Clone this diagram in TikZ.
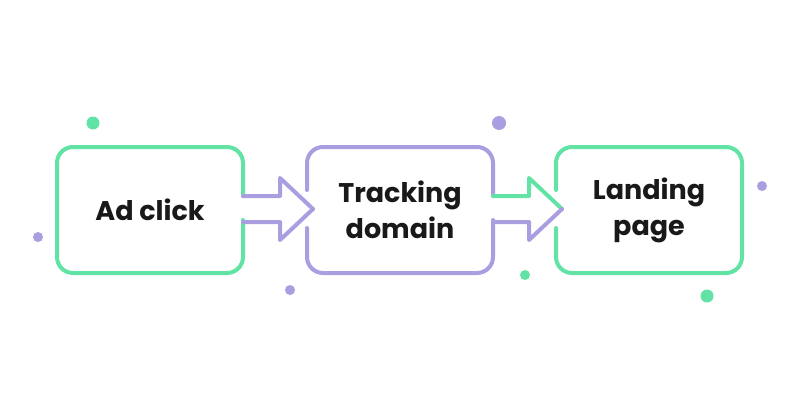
\documentclass[tikz,border=0pt]{standalone}
\usepackage{fontspec}
\setmainfont{Poppins}
\begin{document}
\begin{tikzpicture}[x=1pt,y=-1pt,
  gr/.style={draw=grn,line width=4pt,line join=round,line cap=round},
  pu/.style={draw=pur,line width=4pt,line join=round,line cap=round},
  lbl/.style={font=\fontsize{27}{36}\selectfont\bfseries,align=center,text=black!90}]
\definecolor{grn}{HTML}{62E3A6}
\definecolor{pur}{HTML}{AA9DE0}
\useasboundingbox[fill=white] (0,0) rectangle (800,420);
% boxes
\draw[gr,rounded corners=16] (243,220) -- (243,273) -- (57,273) -- (57,147) -- (243,147) -- (243,196);
\draw[pu,rounded corners=16] (307,190) -- (307,147) -- (493,147) -- (493,196);
\draw[pu,rounded corners=16] (493,220) -- (493,273) -- (307,273) -- (307,228);
\draw[gr,rounded corners=16] (556,190) -- (556,147) -- (742,147) -- (742,273) -- (556,273) -- (556,228);
% arrows
\draw[pu] (243,196) -- (280,196) -- (280,178) -- (313,209);
\draw[pu] (313,209) -- (280,240) -- (280,222) -- (243,222);
\draw[gr] (493,196) -- (529,196) -- (529,178) -- (562,209);
\draw[pu] (562,209) -- (529,240) -- (529,222) -- (493,222);
% labels
\node[lbl] (a) at (150,210) {Ad click};
\node[lbl] (b) at (400,210) {Tracking\\domain};
\node[lbl] (c) at (649,210) {Landing\\page};
% dots
\fill[grn] (93,123) circle (6.5);
\fill[pur] (499,123) circle (7);
\fill[pur] (38,237) circle (5);
\fill[pur] (290,290) circle (5);
\fill[grn] (525,275) circle (5);
\fill[grn] (707,296) circle (6.5);
\fill[pur] (762,186) circle (5);
\end{tikzpicture}
\end{document}
